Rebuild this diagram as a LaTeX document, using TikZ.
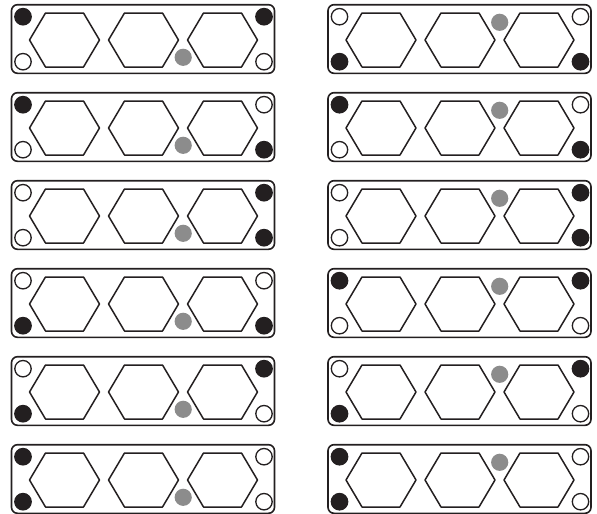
\documentclass[tikz,border=0pt]{standalone}
\usepackage{tikz}
\usetikzlibrary{calc}
\definecolor{Ink}{HTML}{231F20}
\definecolor{Pin}{HTML}{8C8C8C}

% one plate: x, y, four corner fills (tl,tr,bl,br), height of grey pin
\newcommand{\plate}[7]{%
  \begin{scope}[shift={(#1,#2)}]
    \draw[platebox] (0,0.7) rectangle (263,69.3);
    \foreach \h in {53,132,211}
      \draw[cell] (\h-35,36) -- (\h-19,9) -- (\h+19,9) -- (\h+35,36) -- (\h+19,63) -- (\h-19,63) -- cycle;
    \draw[hole,fill=#3] (11.5,12.7) circle (8.2);
    \draw[hole,fill=#4] (252.5,12.7) circle (8.2);
    \draw[hole,fill=#5] (11.5,57.7) circle (8.2);
    \draw[hole,fill=#6] (252.5,57.7) circle (8.2);
    \fill[Pin] (171.7,#7) circle (8.6);
  \end{scope}}

\begin{document}
\begin{tikzpicture}[x=1pt,y=-1pt,
  platebox/.style={draw=Ink,line width=1.6pt,rounded corners=6pt},
  cell/.style={draw=Ink,line width=1.5pt,line join=round},
  hole/.style={draw=Ink,line width=1.3pt}]
  \useasboundingbox (0,0) rectangle (597,514);
  % left column, pin below
  \foreach \y/\tl/\tr/\bl/\br in {4/Ink/Ink/white/white,92/Ink/white/white/Ink,180/white/Ink/white/Ink,
      268/white/white/Ink/Ink,356/white/Ink/Ink/white,444/Ink/white/Ink/white}
    \plate{11.5}{\y}{\tl}{\tr}{\bl}{\br}{53.3};
  % right column, pin above
  \foreach \y/\tl/\tr/\bl/\br in {4/white/white/Ink/Ink,92/Ink/white/white/Ink,180/white/Ink/white/Ink,
      268/Ink/Ink/white/white,356/white/Ink/Ink/white,444/Ink/white/Ink/white}
    \plate{328}{\y}{\tl}{\tr}{\bl}{\br}{18.3};
\end{tikzpicture}
\end{document}
